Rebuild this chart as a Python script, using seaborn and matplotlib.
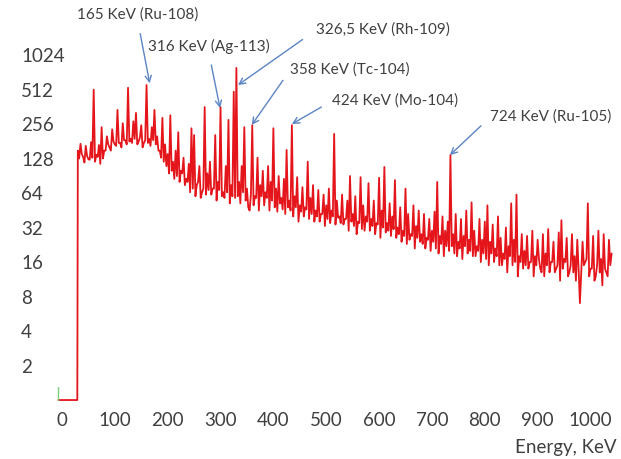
import seaborn as sns
import matplotlib.pyplot as plt
import pandas as pd

# 能谱数据：能量(keV) 与 计数(对数刻度，底数2)
energy = [-7, 29] + list(range(30, 1041, 5))
counts = [1, 1,
          150, 172, 132, 165, 126, 178, 510, 138, 168, 240,   # 30-75
          150, 200, 160, 230, 170, 340, 175, 260, 185, 530,   # 80-125
          190, 270, 320, 180, 250, 175, 560, 190, 240, 340,   # 130-175
          200, 150, 290, 170, 140, 305, 120, 150, 217, 100,   # 180-225
          130, 85, 115, 235, 205, 75, 110, 65, 360, 95,       # 230-275
          120, 70, 205, 80, 360, 65, 110, 278, 75, 490,       # 280-325
          790, 80, 110, 240, 70, 45, 250, 60, 130, 75,        # 330-375
          100, 65, 110, 80, 235, 70, 90, 58, 85, 152,         # 380-425
          55, 250, 60, 88, 50, 72, 48, 120, 58, 75,           # 430-475
          45, 68, 42, 62, 50, 70, 45, 210, 55, 40,            # 480-525
          62, 38, 55, 90, 42, 60, 36, 88, 50, 40,             # 530-575
          78, 38, 55, 35, 87, 45, 108, 35, 52, 40,            # 580-625
          83, 32, 48, 30, 70, 42, 28, 50, 33, 45,             # 630-675
          28, 42, 26, 38, 30, 44, 80, 27, 40, 30,             # 680-725
          36, 137, 28, 42, 24, 38, 27, 45, 25, 53,            # 730-775
          30, 22, 38, 25, 36, 50, 24, 34, 21, 40,             # 780-825
          26, 19, 32, 22, 52, 25, 62, 18, 28, 20,             # 830-875
          27, 16, 30, 18, 25, 14, 28, 19, 31, 16,             # 880-925
          24, 14, 29, 37, 17, 26, 13, 28, 18, 25,             # 930-975
          7, 24, 16, 52, 14, 27, 12, 30, 17, 28, 13, 25, 19]  # 980-1040

# 中间道(32.5, 37.5, ... 1037.5 keV)的计数，多为噪声带的下沿
energy_mid = [e + 2.5 for e in range(30, 1036, 5)]
counts_mid = [128, 140, 118, 135, 125, 130, 120, 132, 115, 128,   # 32.5-77.5
              150, 170, 150, 180, 165, 175, 160, 185, 170, 180,
              175, 190, 170, 195, 160, 185, 175, 165, 185, 170,
              150, 130, 120, 110, 95, 100, 85, 90, 80, 95,
              75, 80, 65, 70, 60, 80, 58, 70, 62, 68,
              62, 70, 55, 68, 60, 58, 65, 52, 60, 58,
              60, 52, 65, 55, 48, 62, 50, 58, 45, 60,
              50, 58, 45, 55, 48, 44, 52, 46, 42, 48,
              45, 40, 48, 36, 44, 40, 46, 38, 42, 36,
              40, 36, 42, 33, 38, 35, 40, 34, 39, 35,
              34, 38, 30, 36, 33, 28, 35, 31, 30, 36,
              30, 33, 28, 34, 26, 32, 29, 30, 27, 31,
              26, 28, 24, 27, 23, 25, 27, 21, 26, 24,
              23, 21, 25, 20, 24, 21, 19, 23, 18, 22,
              20, 22, 19, 18, 21, 17, 22, 19, 20, 18,
              18, 20, 16, 19, 17, 15, 19, 16, 18, 15,
              15, 17, 13, 18, 15, 16, 12, 16, 14, 15,
              14, 16, 12, 15, 17, 13, 12, 15, 13, 16,
              13, 15, 11, 14, 16, 12, 15, 13, 11, 14,
              13, 15, 17, 12, 14, 11, 15, 13, 10, 14, 12, 15]   # 982.5-1037.5

# 左下角的绿色小竖线
green_x = [-7, -7]
green_y = [1, 1.3]

y_ticks = [2, 4, 8, 16, 32, 64, 128, 256, 512, 1024]
x_ticks = [0, 100, 200, 300, 400, 500, 600, 700, 800, 900, 1000]

# 标注的峰：文字、箭头指向的能量与计数
peak_labels = ['165 KeV (Ru-108)', '316 KeV (Ag-113)', '326,5 KeV (Rh-109)',
               '358 KeV (Tc-104)', '424 KeV (Mo-104)', '724 KeV (Ru-105)']
peak_energy = [166, 299, 333, 359, 435, 734]
peak_counts = [580, 353, 560, 251, 256, 137]

sns.set_style('white')
plt.rcParams['font.family'] = ['Lato', 'DejaVu Sans']

df = pd.concat([pd.DataFrame({'energy': energy, 'counts': counts}),
                pd.DataFrame({'energy': energy_mid, 'counts': counts_mid})])
df = df.sort_values('energy').reset_index(drop=True)

fig = plt.figure(figsize=(6.21, 4.59), dpi=100)
ax = fig.add_axes([0.0913, 0.1229, 0.9021, 0.870])
sns.lineplot(data=df, x='energy', y='counts', ax=ax, color='#e4161b',
             linewidth=1.3, sort=False)
ax.plot(green_x, green_y, color='#7ccd7c', linewidth=1)

ax.set_yscale('log', base=2)
ax.set_ylim(0.95, 2 ** 11.5)
ax.set_xlim(-10, 1050)
ax.set_yticks(y_ticks)
ax.set_yticklabels([str(t) for t in y_ticks])
ax.yaxis.set_minor_locator(plt.NullLocator())
ax.set_xticks(x_ticks)
ax.set_xticklabels([str(t) for t in x_ticks])
ax.tick_params(axis='both', length=0, labelsize=13.5, labelcolor='#404040')
ax.tick_params(axis='y', pad=25.7)
ax.tick_params(axis='x', pad=6.8)
for lbl in ax.get_yticklabels():
    lbl.set_ha('left')
for s in ax.spines.values():
    s.set_visible(False)
ax.set_ylabel('')
ax.set_xlabel('Energy, KeV', loc='right', fontsize=13.5, color='#404040', labelpad=7)

# 文字位置(图像像素, 从上往下)与箭头起点
text_pos = [(138, 15), (209, 46), (383, 30), (350, 70), (395, 101), (551, 117)]
rel_pos = [(0.5, 0), (0.5, 0), (0, 0.5), (0, 0.5), (0, 0.5), (0, 0.5)]
shrink = [6, 6, 9, 5, 6, 6]
for lab, e, c, (tx, ty), rp, sa in zip(peak_labels, peak_energy, peak_counts,
                                        text_pos, rel_pos, shrink):
    ax.annotate(lab, xy=(e, c), xycoords='data',
                xytext=(tx, 459 - ty), textcoords='figure pixels',
                ha='center', va='center', fontsize=11, color='#404040',
                arrowprops=dict(arrowstyle='->', color='#5b84c4', lw=1,
                                relpos=rp, shrinkA=sa, shrinkB=0),
                annotation_clip=False)

fig.savefig('out.png', dpi=100)
